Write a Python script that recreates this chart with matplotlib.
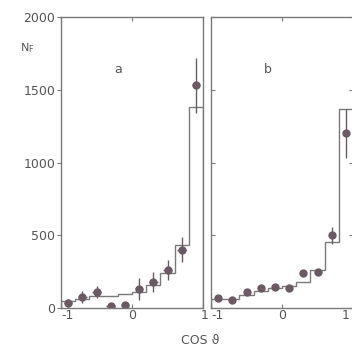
import matplotlib
matplotlib.use("Agg")
import matplotlib.pyplot as plt
import matplotlib.transforms as mtrans
import numpy as np

# bin edges (cos theta)
edges = [-1.0, -0.8, -0.6, -0.4, -0.2, 0.0, 0.2, 0.4, 0.6, 0.8, 1.0]
centers = [-0.9, -0.7, -0.5, -0.3, -0.1, 0.1, 0.3, 0.5, 0.7, 0.9]

# panel a
hist_a = [45, 60, 80, 85, 95, 110, 160, 240, 430, 1380]
data_a = [35, 75, 110, 15, 20, 130, 180, 260, 400, 1530]
err_a = [25, 40, 40, 10, 10, 75, 70, 70, 85, 190]

# panel b
hist_b = [60, 60, 90, 120, 140, 150, 180, 260, 455, 1370]
data_b = [70, 55, 110, 135, 145, 135, 240, 245, 500, 1200]
err_b = [10, 10, 10, 10, 10, 10, 15, 20, 60, 170]

yticks = [0, 500, 1000, 1500, 2000]
xticks = [-1, 0, 1]
xticklabels = ["-1", "0", "1"]

line_c = "#7a7a7a"
pt_c = "#6b5a66"
txt_c = "#555555"

fig = plt.figure(figsize=(3.52, 3.51), dpi=100)
axA = fig.add_axes([61/352, 43/351, 142/352, 291/351])
axB = fig.add_axes([211/352, 43/351, 142/352, 291/351])

for ax, h, d, e, lab, xe, shift1 in [(axA, hist_a, data_a, err_a, "a", 0.06, 1),
                                     (axB, hist_b, data_b, err_b, "b", 0.0, -5)]:
    ax.stairs(h, edges, color=line_c, lw=1.0)
    ax.errorbar(centers, d, yerr=e, xerr=xe, fmt="o", ms=5, color=pt_c,
                ecolor=pt_c, elinewidth=1.0, capsize=0)
    ax.set_xlim(-1, 1)
    ax.set_ylim(0, 2000)
    for s in ax.spines.values():
        s.set_color(line_c)
        s.set_linewidth(1.0)
    ax.set_yticks(yticks)
    ax.set_xticks(xticks)
    ax.set_xticklabels(xticklabels)
    ax.tick_params(colors=line_c, labelcolor=txt_c, labelsize=9, length=3,
                   pad=1)
    ax.tick_params(axis="x", direction="in", top=True)
    ax.text(-0.2, 1640, lab, ha="center", va="center", color=txt_c,
            fontsize=9)
    lbls = ax.get_xticklabels()
    lbls[0].set_transform(lbls[0].get_transform() +
                          mtrans.ScaledTranslation(5/72, 0, fig.dpi_scale_trans))
    lbls[2].set_transform(lbls[2].get_transform() +
                          mtrans.ScaledTranslation(shift1/72, 0, fig.dpi_scale_trans))

axA.tick_params(axis="y", direction="out")
axB.tick_params(axis="y", direction="in", labelleft=False, right=True)

fig.text(20/352, 1 - 48/351, r"N$_\mathrm{F}$", color=txt_c, fontsize=8,
         ha="left", va="center")
fig.text(200/352, 1 - 340/351, "COS ϑ", color=txt_c, fontsize=9,
         ha="center", va="center")

fig.savefig("out.png", dpi=100)
